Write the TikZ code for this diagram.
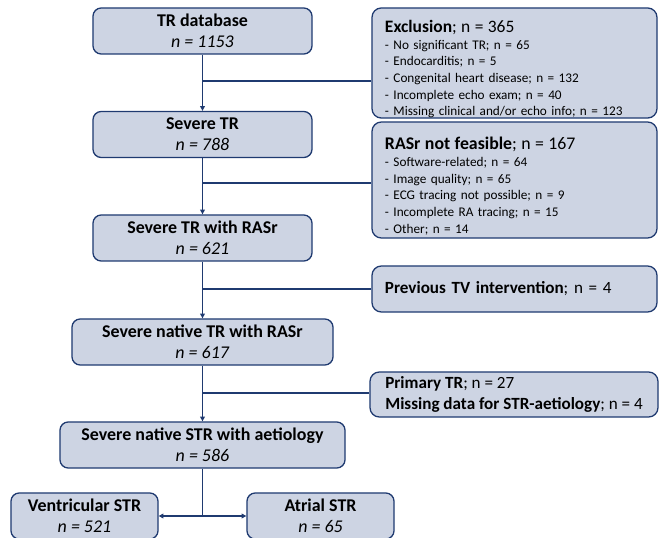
\documentclass[tikz,border=0pt]{standalone}
\usepackage{fontspec}
\setmainfont{Carlito}
\usepackage{xcolor}
\usetikzlibrary{positioning,arrows.meta}
\definecolor{boxfill}{HTML}{CDD4E3}
\definecolor{boxline}{HTML}{1F3A70}

\begin{document}
\begin{tikzpicture}[x=0.03cm, y=-0.03cm,
  mainbox/.style={draw=boxline, fill=boxfill, line width=1.1pt, rounded corners=7pt,
    align=center, minimum height=1.38cm, inner sep=0pt, font=\fontsize{15.3}{18}\selectfont,
    execute at begin node={\rule{0pt}{15pt}}},
  sidebox/.style={draw=boxline, fill=boxfill, line width=1.1pt, rounded corners=8pt,
    align=left, text width=7.77cm, inner xsep=0.39cm, inner ysep=0pt,
    font=\fontsize{11.3}{14.2}\selectfont},
  flow/.style={draw=boxline, line width=1.1pt},
  tip/.style={-{Triangle[length=4pt,width=4pt]}}]
\useasboundingbox (0,0) rectangle (659,538);

% main flow
\node[mainbox, minimum width=6.57cm] (db) at (202.5,31) {\textbf{TR database}\\\textit{n = 1153}};
\node[mainbox, minimum width=6.57cm] (sev) at (202.5,134.5) {\textbf{Severe TR}\\\textit{n = 788}};
\node[mainbox, minimum width=6.57cm] (rasr) at (202.5,238) {\textbf{Severe TR with RASr}\\\textit{n = 621}};
\node[mainbox, minimum width=7.83cm] (native) at (202.5,342) {\textbf{Severe native TR with RASr}\\\textit{n = 617}};
\node[mainbox, minimum width=8.55cm] (aet) at (202.5,445) {\textbf{Severe native STR with aetiology}\\\textit{n = 586}};
\node[mainbox, minimum width=4.41cm] (vent) at (84.5,516) {\textbf{Ventricular STR}\\\textit{n = 521}};
\node[mainbox, minimum width=4.41cm] (atr) at (320.5,516) {\textbf{Atrial STR}\\\textit{n = 65}};

% exclusions
\node[sidebox, minimum height=3.3cm] (excl) at (514.5,63)
  {{\fontsize{14.9}{17.5}\selectfont\rule{0pt}{21pt}\textbf{Exclusion}; n = 365}\\
   - No significant TR; n = 65\\
   - Endocarditis; n = 5\\
   - Congenital heart disease; n = 132\\
   - Incomplete echo exam; n = 40\\
   - Missing clinical and/or echo info; n = 123};
\node[sidebox, minimum height=3.48cm] (nofeas) at (514.5,180)
  {{\fontsize{15.2}{18}\selectfont\rule{0pt}{21pt}\textbf{RASr not feasible}; n = 167}\\
   - Software-related; n = 64\\
   - Image quality; n = 65\\
   - ECG tracing not possible; n = 9\\
   - Incomplete RA tracing; n = 15\\
   - Other; n = 14};
\node[sidebox, minimum height=1.38cm, font=\fontsize{14.6}{17.9}\selectfont] (prevtv) at (514.5,289)
  {\textbf{Previous TV intervention}; n = 4};
\node[sidebox, minimum height=1.35cm, font=\fontsize{14.6}{17.9}\selectfont,
  text width=, minimum width=8.64cm, inner xsep=0pt] (prim) at (514,394.5)
  {\textbf{Primary TR}; n = 27\\\textbf{Missing data for STR-aetiology}; n = 4};

\coordinate (b1) at (202.5,81);
\coordinate (b2) at (202.5,183);
\coordinate (b3) at (202.5,289);
\coordinate (b4) at (202.5,393);
\coordinate (split) at (202.5,516);

\draw[flow, tip] (db) -- (sev);
\draw[flow, tip] (sev) -- (rasr);
\draw[flow, tip] (rasr) -- (native);
\draw[flow, tip] (native) -- (aet);
\draw[flow] (b1) -- (b1 -| excl.west);
\draw[flow] (b2) -- (b2 -| nofeas.west);
\draw[flow] (b3) -- (b3 -| prevtv.west);
\draw[flow] (b4) -- (b4 -| prim.west);
\draw[flow] (aet) -- (split);
\draw[flow, {Triangle[length=4pt,width=4pt]}-{Triangle[length=4pt,width=4pt]}] (vent) -- (atr);

\end{tikzpicture}
\end{document}
